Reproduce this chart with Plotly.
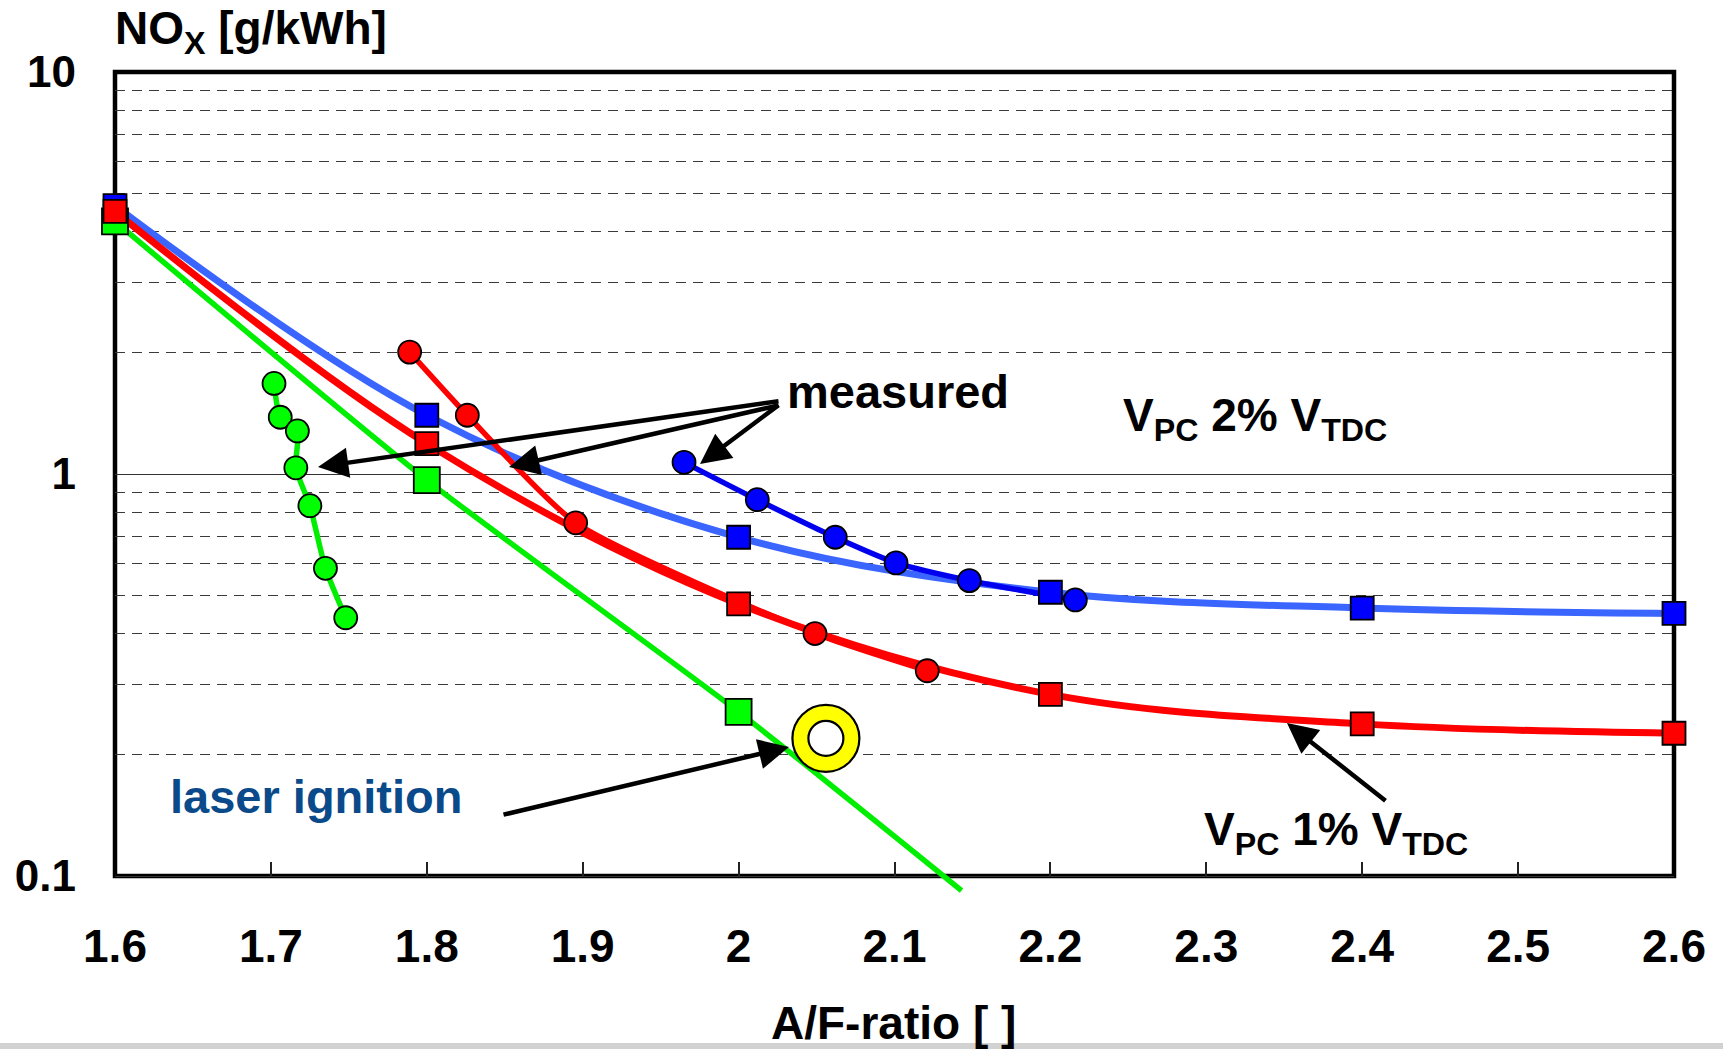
import plotly.graph_objects as go

# ---------------- data ----------------
x_tick_vals = [1.6, 1.7, 1.8, 1.9, 2.0, 2.1, 2.2, 2.3, 2.4, 2.5, 2.6]
x_tick_text = ["1.6", "1.7", "1.8", "1.9", "2", "2.1", "2.2", "2.3", "2.4", "2.5", "2.6"]
y_tick_vals = [0.1, 1, 10]
y_tick_text = ["0.1", "1", "10"]
y_minor_vals = [0.2, 0.3, 0.4, 0.5, 0.6, 0.7, 0.8, 0.9, 2, 3, 4, 5, 6, 7, 8, 9]

# model curves (squares)
model_x = [1.6, 1.8, 2.0, 2.2, 2.4, 2.6]
vpc2_model_y = [4.65, 1.40, 0.696, 0.508, 0.464, 0.450]
vpc1_model_y = [4.50, 1.19, 0.475, 0.283, 0.239, 0.2265]

laser_model_x = [1.6, 1.8, 2.0]
laser_model_y = [4.25, 0.966, 0.256]
laser_line_x = [1.6, 1.8, 2.0, 2.143]
laser_line_y = [4.25, 0.966, 0.256, 0.092]

# measured points (circles)
vpc2_meas_x = [1.965, 2.012, 2.062, 2.101, 2.148, 2.216]
vpc2_meas_y = [1.069, 0.863, 0.696, 0.601, 0.543, 0.486]
vpc1_meas_x = [1.789, 1.826, 1.8955, 2.049, 2.121]
vpc1_meas_y = [2.01, 1.40, 0.756, 0.401, 0.324]
laser_meas_x = [1.702, 1.706, 1.717, 1.716, 1.725, 1.735, 1.748]
laser_meas_y = [1.68, 1.384, 1.28, 1.036, 0.834, 0.5825, 0.439]

# laser ignition highlight
laser_point_x = [2.056]
laser_point_y = [0.22]

# ---------------- layout geometry ----------------
W, H = 1723, 1049
L, R, T, B = 115, 1674, 72, 894          # plot area in pixels
Y_AXIS_PX = 876                            # pixel row of y = 0.1
Y_LOW = 1 - (B - T) / 402.0                # log10 lower range (402 px / decade)


def px(X):
    return (X - L) / (R - L)


def py(Y):
    return (B - Y) / (B - T)


FONT = "Liberation Sans, Arial, sans-serif"

fig = go.Figure()

# model lines
fig.add_trace(go.Scatter(x=model_x, y=vpc2_model_y, mode="lines",
                         line=dict(color="#3a66ff", width=7, shape="spline", smoothing=1.0)))
fig.add_trace(go.Scatter(x=model_x, y=vpc1_model_y, mode="lines",
                         line=dict(color="#ff0000", width=7, shape="spline", smoothing=1.0)))
fig.add_trace(go.Scatter(x=laser_line_x, y=laser_line_y, mode="lines",
                         line=dict(color="#00ee00", width=5.5, shape="spline", smoothing=0.6)))

circle = dict(symbol="circle", size=23, line=dict(color="black", width=1.8))
# measured
fig.add_trace(go.Scatter(x=laser_meas_x, y=laser_meas_y, mode="lines+markers", cliponaxis=False,
                         line=dict(color="#00ee00", width=5.5, shape="spline", smoothing=0.6),
                         marker=dict(color="#00ff00", **circle)))
fig.add_trace(go.Scatter(x=vpc1_meas_x, y=vpc1_meas_y, mode="lines+markers", cliponaxis=False,
                         line=dict(color="#ff0000", width=5.5, shape="spline", smoothing=0.6),
                         marker=dict(color="#ff0000", **circle)))
fig.add_trace(go.Scatter(x=vpc2_meas_x, y=vpc2_meas_y, mode="lines+markers", cliponaxis=False,
                         line=dict(color="#0000ee", width=5.5, shape="spline", smoothing=0.6),
                         marker=dict(color="#0000ff", **circle)))

# squares
sq_line = dict(color="black", width=1.8)
fig.add_trace(go.Scatter(x=model_x, y=vpc2_model_y, mode="markers", cliponaxis=False,
                         marker=dict(symbol="square", size=23, color="#0000ff", line=sq_line)))
fig.add_trace(go.Scatter(x=laser_model_x, y=laser_model_y, mode="markers", cliponaxis=False,
                         marker=dict(symbol="square", size=26, color="#00ff00", line=sq_line)))
fig.add_trace(go.Scatter(x=model_x, y=vpc1_model_y, mode="markers", cliponaxis=False,
                         marker=dict(symbol="square", size=23, color="#ff0000", line=sq_line)))

# laser ignition donut
fig.add_trace(go.Scatter(x=laser_point_x, y=laser_point_y, mode="markers", cliponaxis=False,
                         marker=dict(symbol="circle", size=67, color="#ffff00",
                                     line=dict(color="black", width=2.2))))
fig.add_trace(go.Scatter(x=laser_point_x, y=laser_point_y, mode="markers", cliponaxis=False,
                         marker=dict(symbol="circle", size=35, color="white",
                                     line=dict(color="black", width=2.2))))

# ---------------- annotations ----------------
def text_ann(txt, X, baseline, size, anchor="left", color="black"):
    top = baseline - 0.905 * size - 1
    return dict(text=txt, xref="paper", yref="paper", x=px(X), y=py(top),
                xanchor=anchor, yanchor="top", showarrow=False,
                font=dict(family=FONT, size=size, color=color, weight="bold"))


def arrow(tip, tail):
    return dict(text="", xref="paper", yref="paper", x=px(tip[0]), y=py(tip[1]),
                ax=tail[0] - tip[0], ay=tail[1] - tip[1], showarrow=True,
                arrowhead=2, arrowsize=1.35, arrowwidth=4.5, arrowcolor="black", standoff=0)


annotations = [
    text_ann("NO<sub>X</sub> [g/kWh]", 113, 43, 46),
    text_ann("measured", 898, 407, 47, anchor="center"),
    text_ann("V<sub>PC</sub> 2% V<sub>TDC</sub>", 1121, 430, 46),
    text_ann("V<sub>PC</sub> 1% V<sub>TDC</sub>", 1202, 844, 46),
    text_ann("laser ignition", 168, 812, 47, color="#0a4a8a"),
    text_ann("A/F-ratio [ ]", 893, 1038, 46, anchor="center"),
    arrow((700, 464), (780, 404)),
    arrow((509, 467), (780, 405)),
    arrow((318, 467), (780, 401)),
    arrow((789, 747), (502, 815)),
    arrow((1287, 723), (1387, 802)),
]

shapes = [
    dict(type="rect", xref="paper", yref="paper", x0=0, x1=1, y0=py(Y_AXIS_PX), y1=1,
         line=dict(color="black", width=4.5), layer="between"),
    dict(type="rect", xref="paper", yref="paper", x0=px(0), x1=px(W), y0=py(H), y1=py(1043),
         fillcolor="#d2d2d2", line=dict(width=0), layer="above"),
]

fig.update_layout(
    width=W, height=H,
    margin=dict(l=L, r=W - R, t=T, b=H - B, pad=0),
    paper_bgcolor="white", plot_bgcolor="white",
    showlegend=False,
    font=dict(family=FONT, color="black"),
    annotations=annotations,
    shapes=shapes,
    xaxis=dict(range=[1.6, 2.6], anchor="free", position=py(Y_AXIS_PX),
               tickmode="array", tickvals=x_tick_vals, ticktext=x_tick_text,
               ticks="inside", ticklen=14, tickwidth=1.5, tickcolor="#222",
               showgrid=False, zeroline=False, showline=False,
               tickfont=dict(family=FONT, size=46, color="black", weight="bold"),
               ticklabelstandoff=39),
    yaxis=dict(type="log", range=[Y_LOW, 1],
               tickmode="array", tickvals=y_tick_vals, ticktext=y_tick_text,
               ticks="", showline=False, zeroline=False,
               showgrid=True, gridcolor="#333", gridwidth=1.3,
               minor=dict(tickmode="array", tickvals=y_minor_vals, showgrid=True,
                          gridcolor="#3a3a3a", griddash="10px,7px", gridwidth=1.1),
               tickfont=dict(family=FONT, size=44, color="black", weight="bold"),
               ticklabelstandoff=38),
)

fig.write_html("out.html")
